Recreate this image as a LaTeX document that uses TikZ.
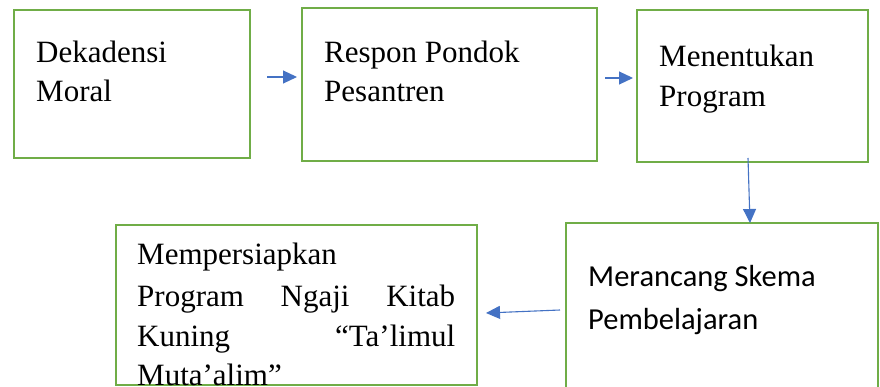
\documentclass[tikz,border=0pt]{standalone}
\usepackage{fontspec}
\setmainfont{Liberation Serif}
\newfontfamily\calibri{Carlito}
\usetikzlibrary{arrows.meta}
\definecolor{boxgreen}{HTML}{70AD47}
\definecolor{arrblue}{HTML}{4472C4}
\begin{document}
\begin{tikzpicture}[x=1pt,y=-1pt,
  box/.style={draw=boxgreen, line width=2.6pt, fill=white, inner sep=0pt},
  lbl/.style={anchor=base west, inner sep=0pt, font=\fontsize{31}{39}\selectfont},
  lblc/.style={anchor=base west, inner sep=0pt, font=\calibri\fontsize{30.5}{39}\selectfont},
  conn/.style={draw=arrblue, line width=1.1pt, -{Triangle[length=14pt,width=13pt]}}]
\useasboundingbox (0,0) rectangle (880,387);
\clip (0,0) rectangle (880,387);
\fill[white] (0,0) rectangle (880,387);
% boxes
\node[box, minimum width=236pt, minimum height=148pt] (b1) at (132,84) {};
\node[box, minimum width=295pt, minimum height=153pt] (b2) at (449.5,84.5) {};
\node[box, minimum width=231pt, minimum height=152pt] (b3) at (752.5,86) {};
\node[box, minimum width=312pt, minimum height=180pt] (b4) at (722,313) {};
\node[box, minimum width=361pt, minimum height=160pt] (b5) at (296.5,305) {};
% texts
\node[lbl] (t1a) at (36,63) {Dekadensi};
\node[lbl] (t1b) at (36,102) {Moral};
\node[lbl] (t2a) at (324,63) {Respon Pondok};
\node[lbl] (t2b) at (324,102) {Pesantren};
\node[lbl] (t3a) at (659,67) {Menentukan};
\node[lbl] (t3b) at (659,107) {Program};
\node[lblc] (t4a) at (588,287) {Merancang Skema};
\node[lblc] (t4b) at (588,329) {Pembelajaran};
\node[lbl] (t5a) at (137,265) {Mempersiapkan};
\node[lbl] (t5b) at (137,306) {\makebox[318pt][s]{Program Ngaji Kitab}};
\node[lbl] (t5c) at (137,346) {\makebox[318pt][s]{Kuning “Ta’limul}};
\node[lbl] (t5d) at (137,385) {Muta’alim”};
% arrow ends
\coordinate (a1s) at (267,77);
\coordinate (a1e) at (297,77);
\coordinate (a2s) at (605,78);
\coordinate (a2e) at (633,78);
\coordinate (a3s) at (748,158);
\coordinate (a3e) at (750,223);
\coordinate (a4s) at (560,310);
\coordinate (a4e) at (486,313);
\draw[conn] (a1s) -- (a1e);
\draw[conn] (a2s) -- (a2e);
\draw[conn] (a3s) -- (a3e);
\draw[conn] (a4s) -- (a4e);
\end{tikzpicture}
\end{document}
